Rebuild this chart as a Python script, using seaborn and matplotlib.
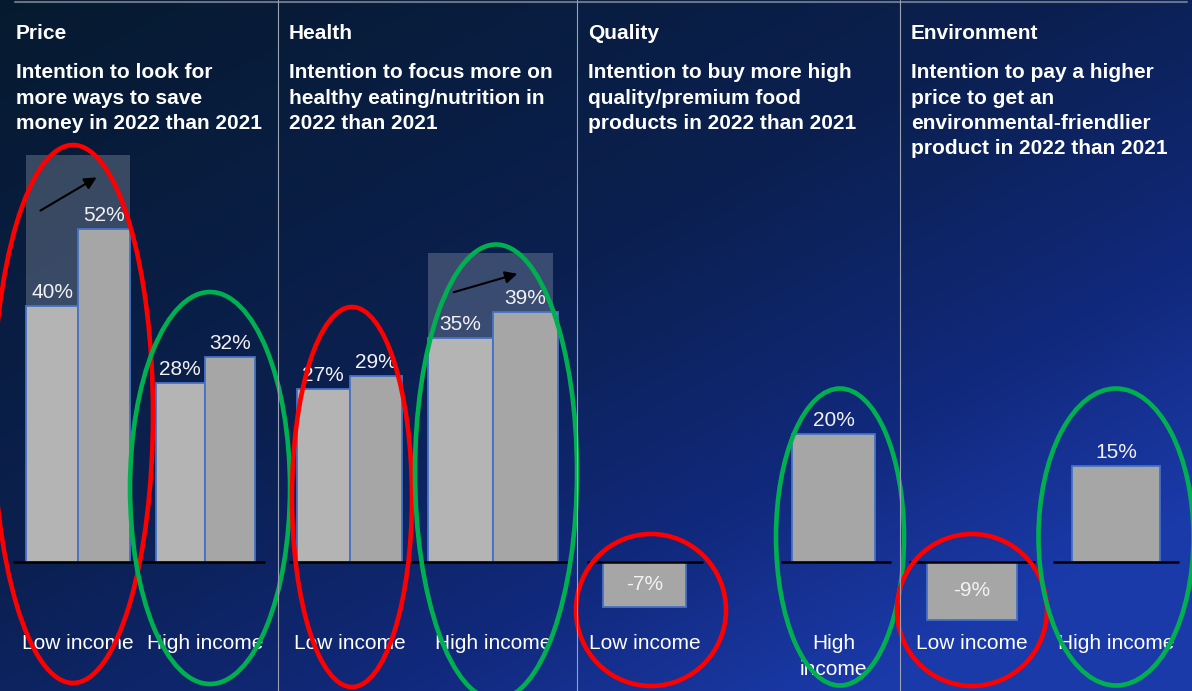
import numpy as np
import pandas as pd
import seaborn as sns
import matplotlib.pyplot as plt
from matplotlib.patches import Ellipse, Rectangle
from matplotlib.colors import LinearSegmentedColormap

# chart values
panels = ['Price', 'Health', 'Quality', 'Environment']
subtitles = [
    ['Intention to look for', 'more ways to save', 'money in 2022 than 2021'],
    ['Intention to focus more on', 'healthy eating/nutrition in', '2022 than 2021'],
    ['Intention to buy more high', 'quality/premium food', 'products in 2022 than 2021'],
    ['Intention to pay a higher', 'price to get an', 'environmental-friendlier', 'product in 2022 than 2021'],
]
groups = ['Low income', 'High income']
years = ['2021', '2022']
price_low = [40, 52]
price_high = [28, 32]
health_low = [27, 29]
health_high = [35, 39]
quality = [-7, 20]        # low, high income
environment = [-9, 15]    # low, high income

rows = []
for panel, low, high in [('Price', price_low, price_high), ('Health', health_low, health_high)]:
    for g, vals in zip(groups, [low, high]):
        for yr, v in zip(years, vals):
            rows.append((panel, g, yr, v))
for panel, vals in [('Quality', quality), ('Environment', environment)]:
    for g, v in zip(groups, vals):
        rows.append((panel, g, '2022', v))
df = pd.DataFrame(rows, columns=['panel', 'group', 'year', 'value'])

# layout (pixels)
W, H = 1192, 691
base_y = 562
ppu = 6.4
panel_px = {'Price': (0, 278), 'Health': (278, 577), 'Quality': (577, 900), 'Environment': (900, 1192)}
group_px = {'Price': (78, 205), 'Health': (349.5, 493), 'Quality': (644.5, 833.5), 'Environment': (972, 1116)}
bar_px = {'Price': (104, 99), 'Health': (105, 130), 'Quality': (83, 83), 'Environment': (90, 88)}
base_px = {'Price': [(13, 265)], 'Health': [(289, 569)],
           'Quality': [(587, 703), (781, 891)], 'Environment': [(909, 1035), (1053, 1179)]}
shade_px = {'Price': (26, 130, 155), 'Health': (428, 553, 253)}
cat_labels = {'Quality': [['Low income'], ['High', 'income']]}
pal = {'2021': '#b4b4b4', '2022': '#a6a6a6'}

sns.set_theme(style='white')
plt.rcParams['font.family'] = ['Liberation Sans', 'DejaVu Sans']

fig = plt.figure(figsize=(W / 100, H / 100), dpi=100)

# gradient background
bg = fig.add_axes([0, 0, 1, 1], zorder=-10)
cmap = LinearSegmentedColormap.from_list('bg', [(0, '#061a2f'), (0.5, '#0b2050'),
                                                (0.78, '#11297c'), (1, '#1b3aaa')])
xx, yy = np.meshgrid(np.linspace(0, 1, 300), np.linspace(0, 1, 200))
t = np.clip(0.55 * xx + 0.6 * yy, 0, 1)
bg.imshow(cmap(t), extent=(0, W, H, 0), aspect='auto')
bg.set_xlim(0, W)
bg.set_ylim(H, 0)
bg.axis('off')


def to_val(yp):
    return (base_y - yp) / ppu


for panel in panels:
    p0, p1 = panel_px[panel]
    c0, c1 = group_px[panel]
    s = c1 - c0
    ax = fig.add_axes([p0 / W, 0, (p1 - p0) / W, 1], zorder=1)
    ax.set_facecolor('none')
    for i, g in enumerate(groups):
        sub = df[(df.panel == panel) & (df.group == g)]
        hue_order = [yr for yr in years if yr in sub.year.values]
        n0 = len(ax.containers)
        sns.barplot(data=sub, x='group', y='value', hue='year', order=groups, hue_order=hue_order,
                    palette=pal, width=bar_px[panel][i] / s, errorbar=None, saturation=1,
                    edgecolor='#4472c4', linewidth=1.3, legend=False, ax=ax)
        for c in ax.containers[n0:]:
            if c.datavalues[0] < 0:
                ax.bar_label(c, fmt='%.0f%%', label_type='center', color='#f2f2f2', fontsize=15)
            else:
                ax.bar_label(c, fmt='%.0f%%', padding=3, color='#f2f2f2', fontsize=15)
    # baseline
    for a, b in base_px[panel]:
        ax.hlines(0, (a - c0) / s, (b - c0) / s, color='black', lw=1.8, zorder=3)
    # shaded area behind the change arrow
    if panel in shade_px:
        a, b, top = shade_px[panel]
        low = df[(df.panel == panel)].value.values
        bottom = low[0] if panel == 'Price' else low[2]
        ax.add_patch(Rectangle(((a - c0) / s, bottom), (b - a) / s, to_val(top) - bottom,
                               facecolor='white', alpha=0.2, lw=0, zorder=0.5))
    # category labels
    labs = cat_labels.get(panel, [[g] for g in groups])
    for i, lines in enumerate(labs):
        for j, line in enumerate(lines):
            ax.text(i, to_val(649 + 26 * j), line, ha='center', va='baseline',
                    color='white', fontsize=15)
    ax.set_xlim((p0 - c0) / s, (p1 - c0) / s)
    ax.set_ylim(to_val(H), to_val(0))
    ax.axis('off')

    # titles
    fig.text((p0 + 11 if p0 else 16) / W, 1 - 39 / H, panel, fontsize=15, fontweight='bold',
             color='white', va='baseline')
    for j, line in enumerate(subtitles[panels.index(panel)]):
        fig.text((p0 + 11 if p0 else 16) / W, 1 - (78 + 25.5 * j) / H, line, fontsize=15,
                 fontweight='bold', color='white', va='baseline')

# overlay: separators, circles, arrows
ov = fig.add_axes([0, 0, 1, 1], zorder=2)
ov.set_facecolor('none')
ov.set_xlim(0, W)
ov.set_ylim(H, 0)
ov.axis('off')
ov.plot([15, 1187], [1.5, 1.5], color='#6b7282', lw=1.5)
for xs in [278, 577, 900]:
    ov.plot([xs, xs], [0, H], color='#9aa2b2', lw=0.8)

red, green = '#ff0000', '#00b050'
ellipses = [((73, 414), 160, 538, red), ((210, 488), 160, 392, green),
            ((352, 497), 120, 380, red), ((496, 472), 162, 455, green),
            ((651, 610), 150, 152, red), ((840, 537), 128, 297, green),
            ((972, 610), 150, 152, red), ((1116, 537), 155, 297, green)]
for (cx, cy), w, h, col in ellipses:
    ov.add_patch(Ellipse((cx, cy), w, h, fill=False, edgecolor=col, lw=3.3))

for tail, head in [((38, 212), (99, 176)), ((451, 293), (520, 273))]:
    ov.annotate('', xy=head, xytext=tail,
                arrowprops=dict(arrowstyle='-|>', color='black', lw=1.5, mutation_scale=18))

fig.savefig('out.png', dpi=100)
